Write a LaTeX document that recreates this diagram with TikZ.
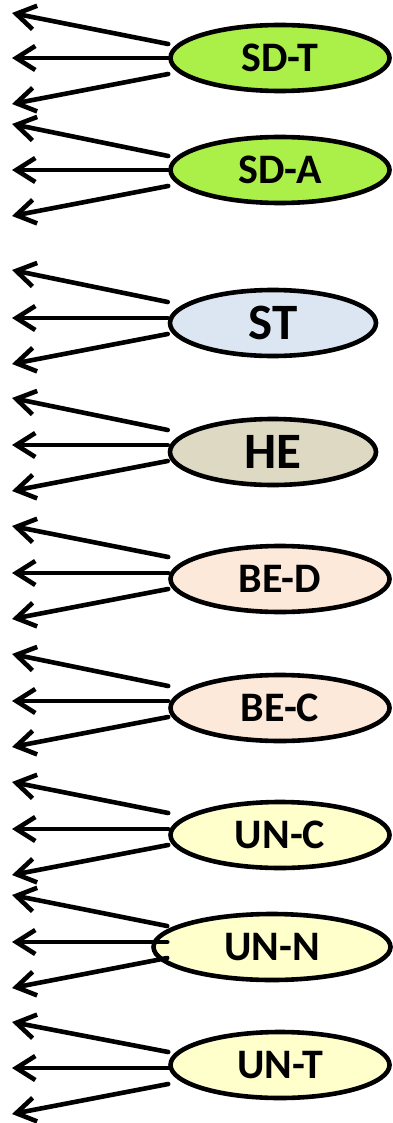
\documentclass[tikz,border=0pt]{standalone}
\usepackage{fontspec}
\setmainfont{Carlito}
\usetikzlibrary{arrows.meta,shapes.geometric}
\definecolor{sdgreen}{HTML}{AAF048}
\definecolor{stblue}{HTML}{DCE6F2}
\definecolor{hetan}{HTML}{DDD9C3}
\definecolor{bepeach}{HTML}{FDE9D9}
\definecolor{unyellow}{HTML}{FFFFCC}

\begin{document}
\begin{tikzpicture}[x=1pt,y=-1pt,line width=4.6pt,line cap=round,line join=round,
  >={Straight Barb[length=19pt,width=24pt]},
  cls/.style={draw,ellipse,inner sep=0pt,minimum width=219pt,minimum height=66pt,font=\fontsize{42}{44}\selectfont\bfseries},
  big/.style={minimum width=206pt,font=\fontsize{51}{54}\selectfont\bfseries}]
\useasboundingbox (0,0) rectangle (393,1123);
\node[cls,fill=sdgreen] (sdt) at (280,58) {SD-T};
\node[cls,fill=sdgreen] (sda) at (280,170) {SD-A};
\node[cls,big,fill=stblue] (st) at (273,323) {ST};
\node[cls,big,fill=hetan] (he) at (273,452) {HE};
\node[cls,fill=bepeach] (bed) at (280,579) {BE-D};
\node[cls,fill=bepeach] (bec) at (280,708) {BE-C};
\node[cls,fill=unyellow] (unc) at (280,835) {UN-C};
\node[cls,fill=unyellow,minimum width=237pt] (unn) at (272,947) {UN-N};
\node[cls,fill=unyellow] (unt) at (280,1065) {UN-T};
% free ends on the left
\coordinate (sdt1) at (12,13); \coordinate (sdt2) at (12,58); \coordinate (sdt3) at (12,104);
\coordinate (sda1) at (12,124); \coordinate (sda2) at (12,170); \coordinate (sda3) at (12,216);
\coordinate (st1) at (12,270); \coordinate (st2) at (12,318); \coordinate (st3) at (12,364);
\coordinate (he1) at (12,398); \coordinate (he2) at (12,445); \coordinate (he3) at (12,491);
\coordinate (bed1) at (12,526); \coordinate (bed2) at (12,573); \coordinate (bed3) at (12,619);
\coordinate (bec1) at (12,654); \coordinate (bec2) at (12,701); \coordinate (bec3) at (12,747);
\coordinate (unc1) at (12,782); \coordinate (unc2) at (12,829); \coordinate (unc3) at (12,875);
\coordinate (unn1) at (12,895); \coordinate (unn2) at (12,942); \coordinate (unn3) at (12,988);
\coordinate (unt1) at (12,1022); \coordinate (unt2) at (12,1068); \coordinate (unt3) at (12,1114);
\draw[->] ([yshift=14pt]sdt.west)--(sdt1); \draw[->] (sdt.west)--(sdt2); \draw[->] ([yshift=-16pt]sdt.west)--(sdt3);
\draw[->] ([yshift=14pt]sda.west)--(sda1); \draw[->] (sda.west)--(sda2); \draw[->] ([yshift=-16pt]sda.west)--(sda3);
\draw[->] ([yshift=21pt]st.west)--(st1); \draw[->] ([yshift=5pt]st.west)--(st2); \draw[->] ([yshift=-11pt]st.west)--(st3);
\draw[->] ([yshift=22pt]he.west)--(he1); \draw[->] ([yshift=7pt]he.west)--(he2); \draw[->] ([yshift=-9pt]he.west)--(he3);
\draw[->] ([yshift=22pt]bed.west)--(bed1); \draw[->] ([yshift=6pt]bed.west)--(bed2); \draw[->] ([yshift=-10pt]bed.west)--(bed3);
\draw[->] ([yshift=22pt]bec.west)--(bec1); \draw[->] ([yshift=7pt]bec.west)--(bec2); \draw[->] ([yshift=-9pt]bec.west)--(bec3);
\draw[->] ([yshift=22pt]unc.west)--(unc1); \draw[->] ([yshift=6pt]unc.west)--(unc2); \draw[->] ([yshift=-10pt]unc.west)--(unc3);
\draw[->] ([xshift=16pt,yshift=21pt]unn.west)--(unn1); \draw[->] ([xshift=16pt,yshift=5pt]unn.west)--(unn2); \draw[->] ([xshift=16pt,yshift=-11pt]unn.west)--(unn3);
\draw[->] ([yshift=13pt]unt.west)--(unt1); \draw[->] ([yshift=-3pt]unt.west)--(unt2); \draw[->] ([yshift=-19pt]unt.west)--(unt3);
\end{tikzpicture}
\end{document}
